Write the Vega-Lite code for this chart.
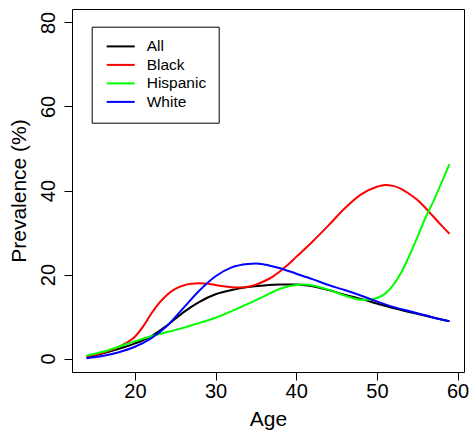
{
  "$schema": "https://vega.github.io/schema/vega-lite/v6.json",
  "width": 392,
  "height": 363,
  "autosize": "none",
  "padding": {"left": 72, "top": 9, "right": 8, "bottom": 62},
  "background": "white",
  "config": {
    "view": {"stroke": "black", "strokeWidth": 1},
    "font": "Liberation Sans"
  },
  "data": {"values": [
    {"age":14,"p":0.3,"g":"All"},{"age":16,"p":1.2,"g":"All"},{"age":18,"p":2.3,"g":"All"},{"age":20,"p":3.6,"g":"All"},{"age":22,"p":5.3,"g":"All"},{"age":24,"p":7.9,"g":"All"},{"age":26,"p":11.0,"g":"All"},{"age":28,"p":13.5,"g":"All"},{"age":30,"p":15.3,"g":"All"},{"age":32,"p":16.3,"g":"All"},{"age":34,"p":17.0,"g":"All"},{"age":36,"p":17.4,"g":"All"},{"age":38,"p":17.6,"g":"All"},{"age":40,"p":17.6,"g":"All"},{"age":42,"p":17.2,"g":"All"},{"age":44,"p":16.3,"g":"All"},{"age":46,"p":15.2,"g":"All"},{"age":48,"p":14.2,"g":"All"},{"age":50,"p":13.1,"g":"All"},{"age":52,"p":12.0,"g":"All"},{"age":54,"p":11.1,"g":"All"},{"age":56,"p":10.2,"g":"All"},{"age":58,"p":9.3,"g":"All"},{"age":59,"p":8.9,"g":"All"},
    {"age":14,"p":0.5,"g":"Black"},{"age":16,"p":1.4,"g":"Black"},{"age":17,"p":2.0,"g":"Black"},{"age":18,"p":2.8,"g":"Black"},{"age":19,"p":3.8,"g":"Black"},{"age":20,"p":5.2,"g":"Black"},{"age":21,"p":7.6,"g":"Black"},{"age":22,"p":10.6,"g":"Black"},{"age":23,"p":13.2,"g":"Black"},{"age":24,"p":15.2,"g":"Black"},{"age":25,"p":16.6,"g":"Black"},{"age":26,"p":17.4,"g":"Black"},{"age":27,"p":17.8,"g":"Black"},{"age":28,"p":17.9,"g":"Black"},{"age":29,"p":17.8,"g":"Black"},{"age":30,"p":17.5,"g":"Black"},{"age":31,"p":17.2,"g":"Black"},{"age":32,"p":17.0,"g":"Black"},{"age":33,"p":16.9,"g":"Black"},{"age":34,"p":17.1,"g":"Black"},{"age":35,"p":17.6,"g":"Black"},{"age":36,"p":18.4,"g":"Black"},{"age":37,"p":19.4,"g":"Black"},{"age":38,"p":20.8,"g":"Black"},{"age":39,"p":22.4,"g":"Black"},{"age":40,"p":24.2,"g":"Black"},{"age":42,"p":27.8,"g":"Black"},{"age":44,"p":31.7,"g":"Black"},{"age":46,"p":35.7,"g":"Black"},{"age":48,"p":39.0,"g":"Black"},{"age":50,"p":40.9,"g":"Black"},{"age":51,"p":41.3,"g":"Black"},{"age":52,"p":41.1,"g":"Black"},{"age":53,"p":40.4,"g":"Black"},{"age":54,"p":39.2,"g":"Black"},{"age":55,"p":37.8,"g":"Black"},{"age":56,"p":35.9,"g":"Black"},{"age":57,"p":33.8,"g":"Black"},{"age":58,"p":31.7,"g":"Black"},{"age":59,"p":29.7,"g":"Black"},
    {"age":14,"p":0.7,"g":"Hispanic"},{"age":16,"p":1.6,"g":"Hispanic"},{"age":18,"p":2.8,"g":"Hispanic"},{"age":20,"p":4.1,"g":"Hispanic"},{"age":22,"p":5.3,"g":"Hispanic"},{"age":24,"p":6.3,"g":"Hispanic"},{"age":26,"p":7.3,"g":"Hispanic"},{"age":28,"p":8.5,"g":"Hispanic"},{"age":30,"p":9.7,"g":"Hispanic"},{"age":32,"p":11.3,"g":"Hispanic"},{"age":34,"p":13.0,"g":"Hispanic"},{"age":36,"p":14.8,"g":"Hispanic"},{"age":38,"p":16.6,"g":"Hispanic"},{"age":40,"p":17.5,"g":"Hispanic"},{"age":41,"p":17.6,"g":"Hispanic"},{"age":42,"p":17.4,"g":"Hispanic"},{"age":44,"p":16.4,"g":"Hispanic"},{"age":46,"p":15.0,"g":"Hispanic"},{"age":47,"p":14.4,"g":"Hispanic"},{"age":48,"p":14.0,"g":"Hispanic"},{"age":49,"p":14.0,"g":"Hispanic"},{"age":50,"p":14.4,"g":"Hispanic"},{"age":51,"p":15.4,"g":"Hispanic"},{"age":52,"p":17.4,"g":"Hispanic"},{"age":53,"p":20.4,"g":"Hispanic"},{"age":54,"p":24.4,"g":"Hispanic"},{"age":55,"p":28.8,"g":"Hispanic"},{"age":56,"p":33.4,"g":"Hispanic"},{"age":57,"p":37.4,"g":"Hispanic"},{"age":58,"p":41.8,"g":"Hispanic"},{"age":59,"p":46.3,"g":"Hispanic"},
    {"age":14,"p":0.1,"g":"White"},{"age":16,"p":0.6,"g":"White"},{"age":18,"p":1.5,"g":"White"},{"age":20,"p":2.8,"g":"White"},{"age":22,"p":4.8,"g":"White"},{"age":24,"p":7.8,"g":"White"},{"age":26,"p":12.0,"g":"White"},{"age":28,"p":16.2,"g":"White"},{"age":30,"p":19.6,"g":"White"},{"age":32,"p":21.7,"g":"White"},{"age":34,"p":22.5,"g":"White"},{"age":35,"p":22.6,"g":"White"},{"age":36,"p":22.4,"g":"White"},{"age":38,"p":21.5,"g":"White"},{"age":40,"p":20.2,"g":"White"},{"age":42,"p":18.9,"g":"White"},{"age":44,"p":17.5,"g":"White"},{"age":46,"p":16.3,"g":"White"},{"age":48,"p":15.0,"g":"White"},{"age":50,"p":13.6,"g":"White"},{"age":52,"p":12.3,"g":"White"},{"age":54,"p":11.3,"g":"White"},{"age":56,"p":10.3,"g":"White"},{"age":58,"p":9.3,"g":"White"},{"age":59,"p":8.9,"g":"White"}
  ]},
  "mark": {"type": "line", "interpolate": "monotone", "strokeWidth": 2, "clip": true},
  "encoding": {
    "x": {"field": "age", "type": "quantitative", "title": "Age",
      "scale": {"domain": [12.2, 60.8], "nice": false, "zero": false},
      "axis": {"values": [20,30,40,50,60], "grid": false, "domain": false, "tickSize": 8, "tickColor": "black", "tickWidth": 1,
        "labelFontSize": 20, "labelColor": "black", "labelPadding": 1, "labelFlush": false,
        "titleFontSize": 21, "titleFontWeight": "normal", "titleColor": "black", "titlePadding": 7}},
    "y": {"field": "p", "type": "quantitative", "title": "Prevalence (%)",
      "scale": {"domain": [-3.2, 83.2], "nice": false, "zero": false},
      "axis": {"values": [0,20,40,60,80], "grid": false, "domain": false, "tickSize": 8, "tickColor": "black", "tickWidth": 1,
        "labelAngle": -90, "labelAlign": "center", "labelBaseline": "bottom", "labelFontSize": 20, "labelColor": "black", "labelPadding": 6, "labelFlush": false,
        "titleFontSize": 21, "titleFontWeight": "normal", "titleColor": "black", "titlePadding": 9}},
    "color": {"field": "g", "type": "nominal", "title": null,
      "scale": {"domain": ["All","Black","Hispanic","White"], "range": ["#000000","#FF0000","#00FF00","#0000FF"]},
      "legend": {"orient": "none", "legendX": 19.7, "legendY": 17.7, "strokeColor": "black", "padding": 11.7,
        "symbolType": "M-2,0H2", "symbolStrokeWidth": 2, "symbolSize": 196, "symbolOffset": 9.3, "labelFontSize": 15.5, "labelColor": "black",
        "rowPadding": 1.5, "labelOffset": 18}}
  }
}
